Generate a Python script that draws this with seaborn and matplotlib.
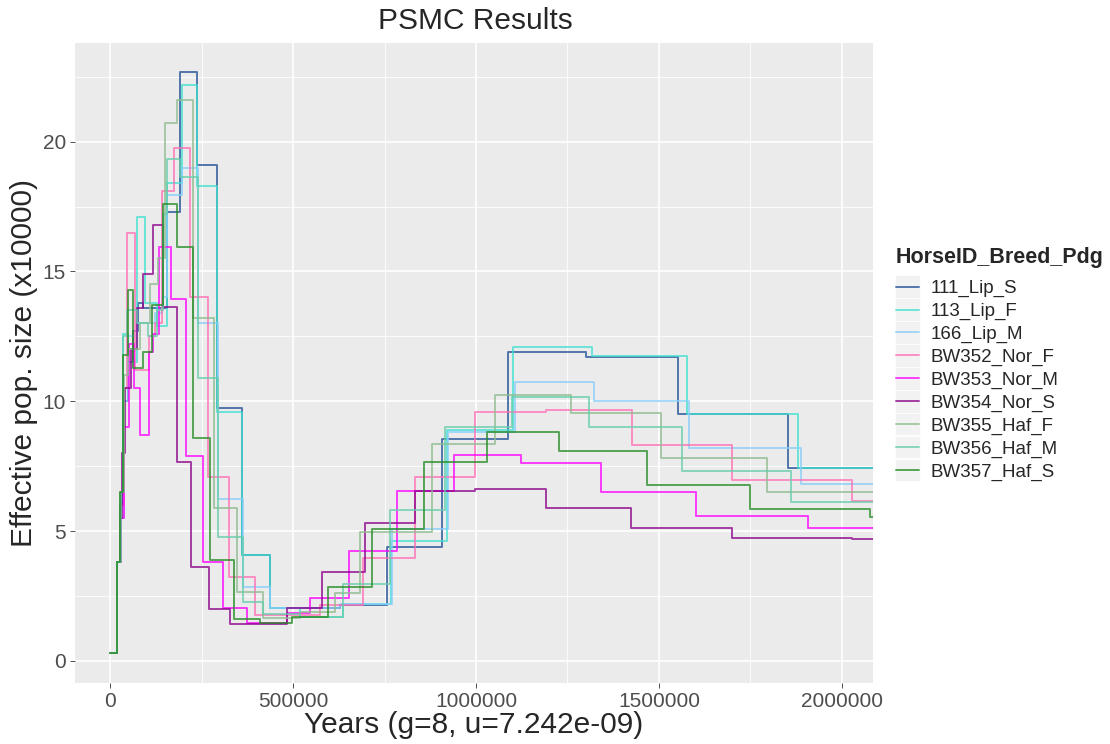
import matplotlib
matplotlib.use('Agg')
import matplotlib.pyplot as plt
from matplotlib.lines import Line2D
from matplotlib.patches import Rectangle
import seaborn as sns
import pandas as pd

# PSMC step curves, x in years, y in Ne (x10000)
x_111_lip_s = [0, 19000, 27300, 35500, 49200, 62800, 76500, 90200, 155700, 191200, 237700, 292300,
               360600, 437100, 628400, 756800, 907000, 1087300, 1300400, 1551800, 1852300, 2100000]
y_111_lip_s = [0.3, 3.8, 6.0, 10.0, 11.5, 12.7, 13.8, 13.6, 17.3, 22.7, 19.1, 9.75,
               4.08, 2.04, 2.15, 4.4, 8.55, 11.9, 11.7, 9.5, 7.44, 7.44]

x_113_lip_f = [0, 19000, 30000, 35500, 49200, 73800, 95600, 128400, 155700, 196700, 237700, 292300,
               360600, 437100, 519100, 636600, 767700, 920700, 1101000, 1316800, 1576400, 1879600, 2100000]
y_113_lip_f = [0.3, 3.8, 6.2, 12.6, 11.5, 17.1, 13.8, 12.9, 18.4, 22.2, 18.3, 9.6,
               4.08, 2.04, 1.7, 2.2, 4.6, 8.9, 12.1, 11.75, 9.5, 7.44, 7.44]

x_166_lip_m = [0, 19000, 30000, 38200, 49200, 73800, 122900, 142100, 155700, 196700, 240400, 295100,
               363400, 437100, 628400, 770400, 923400, 1106500, 1322300, 1581800, 1887800, 2100000]
y_166_lip_m = [0.3, 3.8, 5.5, 10.0, 12.5, 13.0, 13.4, 14.0, 17.95, 19.0, 13.0, 6.24,
               2.85, 2.04, 2.2, 5.1, 8.8, 10.75, 10.0, 8.2, 6.82, 6.82]

x_bw352_nor_f = [0, 19000, 30000, 38200, 46400, 68300, 106500, 122900, 142100, 174800, 218600, 267700,
                 325100, 396100, 573700, 691200, 833300, 997200, 1191200, 1426100, 1699300, 2027100, 2100000]
y_bw352_nor_f = [0.3, 3.8, 6.0, 10.5, 16.5, 11.2, 12.5, 13.0, 18.1, 19.75, 14.0, 7.1,
                 3.25, 1.77, 2.15, 3.97, 7.1, 9.6, 9.67, 8.3, 6.97, 6.17, 6.17]

x_bw353_nor_m = [0, 19000, 30000, 38200, 51900, 65600, 82000, 106500, 117500, 133900, 166700, 207600,
                 254100, 308700, 374300, 483600, 546400, 653000, 784100, 939800, 1122900, 1341400,
                 1601000, 1907000, 2100000]
y_bw353_nor_m = [0.3, 3.8, 5.5, 9.0, 12.2, 10.5, 8.7, 11.9, 12.6, 15.95, 13.95, 7.9,
                 3.8, 2.05, 1.46, 1.85, 2.43, 4.24, 6.55, 7.94, 7.63, 6.5,
                 5.6, 5.12, 5.12]

x_bw354_nor_s = [0, 19000, 27300, 32800, 41000, 57400, 73800, 90200, 117500, 144800, 183000, 221300,
                 270500, 327800, 483600, 579200, 696700, 833300, 997200, 1191200, 1423400, 1699300,
                 2027100, 2100000]
y_bw354_nor_s = [0.3, 3.8, 5.5, 8.0, 10.5, 12.0, 13.6, 14.9, 16.8, 13.65, 7.66, 3.62,
                 2.0, 1.42, 2.05, 3.43, 5.32, 6.55, 6.63, 5.9, 5.12, 4.74,
                 4.7, 4.7]

x_bw355_haf_f = [0, 19000, 27300, 38200, 49200, 82000, 109300, 131100, 150300, 183000, 226800, 284100,
                 347000, 418000, 519100, 614700, 683000, 879700, 1051800, 1259500, 1505300, 1794900, 2100000]
y_bw355_haf_f = [0.3, 3.8, 6.5, 11.0, 12.0, 13.0, 14.5, 15.5, 20.7, 21.6, 13.2, 5.9,
                 2.66, 1.67, 1.9, 2.6, 4.97, 8.35, 10.25, 9.55, 7.82, 6.5, 6.5]

x_bw356_haf_m = [0, 19000, 30000, 35500, 46400, 73800, 103800, 128400, 144800, 155700, 191200, 240400,
                 295100, 363400, 418000, 519100, 636600, 765000, 915200, 1098300, 1308600, 1562700,
                 1860500, 2100000]
y_bw356_haf_m = [0.3, 3.8, 6.5, 12.5, 13.5, 13.0, 12.5, 13.5, 17.2, 19.35, 18.65, 10.9,
                 4.78, 2.27, 1.8, 1.7, 2.97, 5.8, 9.0, 10.17, 9.0, 7.3,
                 6.13, 6.13]

x_bw357_haf_s = [0, 19000, 27300, 35500, 49200, 62800, 90200, 114700, 144800, 183000, 226800, 273200,
                 338800, 409800, 497200, 595600, 715800, 857800, 1030000, 1226700, 1467100, 1748500,
                 2076300, 2100000]
y_bw357_haf_s = [0.3, 3.8, 6.5, 11.8, 14.3, 11.3, 11.9, 13.7, 17.6, 15.95, 8.6, 3.9,
                 1.6, 1.47, 1.7, 2.85, 5.08, 7.67, 8.82, 8.1, 6.78, 5.86,
                 5.55, 5.55]

samples = ['111_Lip_S', '113_Lip_F', '166_Lip_M', 'BW352_Nor_F', 'BW353_Nor_M',
           'BW354_Nor_S', 'BW355_Haf_F', 'BW356_Haf_M', 'BW357_Haf_S']
series = [(x_111_lip_s, y_111_lip_s), (x_113_lip_f, y_113_lip_f), (x_166_lip_m, y_166_lip_m),
          (x_bw352_nor_f, y_bw352_nor_f), (x_bw353_nor_m, y_bw353_nor_m), (x_bw354_nor_s, y_bw354_nor_s),
          (x_bw355_haf_f, y_bw355_haf_f), (x_bw356_haf_m, y_bw356_haf_m), (x_bw357_haf_s, y_bw357_haf_s)]

colors = ['#1F4E96', '#40E0D0', '#87CEFA', '#FF6EB4', '#FF00FF',
          '#8B008B', '#8FBC8F', '#66CDAA', '#228B22']
palette = dict(zip(samples, colors))

rows = []
for name, (xs, ys) in zip(samples, series):
    for xv, yv in zip(xs, ys):
        rows.append({'Years': xv, 'Ne': yv, 'HorseID_Breed_Pdg': name})
df = pd.DataFrame(rows)

sns.set_style("darkgrid", {"axes.facecolor": "#EBEBEB", "grid.color": "white"})
plt.rcParams['font.family'] = ['Liberation Sans', 'DejaVu Sans']

fig = plt.figure(figsize=(11.1, 7.44), dpi=100)
ax = fig.add_axes([75 / 1110, 1 - 683 / 744, (873 - 75) / 1110, (683 - 43) / 744])

sns.lineplot(data=df, x='Years', y='Ne', hue='HorseID_Breed_Pdg', hue_order=samples,
             palette=palette, estimator=None, sort=False, drawstyle='steps-post',
             linewidth=1.4, alpha=0.75, legend=False, ax=ax)

ax.set_xlim(-96000, 2085000)
ax.set_ylim(-0.85, 23.8)
ax.set_xticks([0, 500000, 1000000, 1500000, 2000000])
ax.set_xticklabels(['0', '500000', '1000000', '1500000', '2000000'])
ax.set_yticks([0, 5, 10, 15, 20])
ax.set_xticks([250000, 750000, 1250000, 1750000], minor=True)
ax.set_yticks([2.5, 7.5, 12.5, 17.5, 22.5], minor=True)
ax.grid(which='major', color='white', linewidth=1.2)
ax.grid(which='minor', color='white', linewidth=0.6)
ax.set_axisbelow(True)
for s in ax.spines.values():
    s.set_visible(False)
ax.tick_params(which='major', length=3.5, width=0.6, color='#333333',
               labelsize=15, labelcolor='#4D4D4D', bottom=True, left=True, pad=3)
ax.tick_params(which='minor', length=0)

ax.set_xlabel('Years (g=8, u=7.242e-09)', fontsize=21.5, labelpad=0)
ax.set_ylabel('Effective pop. size (x10000)', fontsize=21.5, labelpad=3)
fig.text(475 / 1110, 1 - 21 / 744, 'PSMC Results', ha='center', va='center', fontsize=21.5)

# legend: title as separate text, entries below
fig.text(896 / 1110, 1 - 257 / 744, 'HorseID_Breed_Pdg', ha='left', va='center',
         fontsize=15.5, fontweight='bold')
handles = [Line2D([], [], color=palette[s], linewidth=1.4, alpha=0.75) for s in samples]
leg = fig.legend(handles, samples, loc='upper left', bbox_to_anchor=(896 / 1110, 1 - 280 / 744),
                 frameon=False, fontsize=13.5, handlelength=1.23, handletextpad=0.6,
                 labelspacing=0.3, borderpad=0, borderaxespad=0)

# grey key backgrounds, as in ggplot legends
fig.canvas.draw()
renderer = fig.canvas.get_renderer()
for ln in leg.get_lines():
    bb = ln.get_window_extent(renderer)
    cy = (bb.y0 + bb.y1) / 2
    fig.patches.append(Rectangle((bb.x0 - 1, cy - 11.3), bb.width + 2, 22.6, transform=None,
                                 facecolor='#F2F2F2', edgecolor='white', linewidth=0.5, zorder=0))

fig.savefig('out.png', dpi=100)
